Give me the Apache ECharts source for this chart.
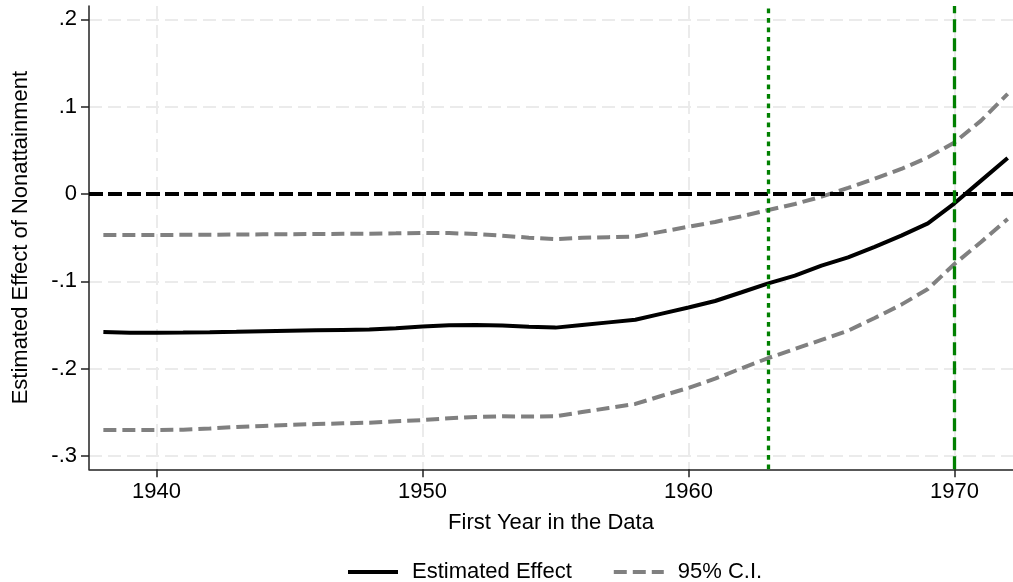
<!DOCTYPE html>
<html>
<head>
<meta charset="utf-8">
<script src="https://cdn.jsdelivr.net/npm/echarts@6/dist/echarts.min.js"></script>
<style>
  html, body { margin: 0; padding: 0; background: #fff; }
  #chart { width: 1013px; height: 582px; }
</style>
</head>
<body>
<div id="chart"></div>
<script>
// First year in the data (x) and the estimated effect with its 95% band
const years = [1938, 1939, 1940, 1941, 1942, 1943, 1944, 1945, 1946, 1947, 1948, 1949,
  1950, 1951, 1952, 1953, 1954, 1955, 1956, 1957, 1958, 1959, 1960, 1961, 1962, 1963,
  1964, 1965, 1966, 1967, 1968, 1969, 1970, 1971, 1972];

const estimate = [-0.1580, -0.1588, -0.1588, -0.1587, -0.1583, -0.1578, -0.1572, -0.1566,
  -0.1561, -0.1556, -0.1551, -0.1538, -0.1518, -0.1502, -0.1500, -0.1505, -0.1520, -0.1530,
  -0.1500, -0.1470, -0.1440, -0.1370, -0.1300, -0.1225, -0.1125, -0.1023, -0.0935, -0.0821,
  -0.0726, -0.0605, -0.0477, -0.0336, -0.0107, 0.0153, 0.0412];

const ciUpper = [-0.0469, -0.0470, -0.0469, -0.0468, -0.0466, -0.0464, -0.0462, -0.0460,
  -0.0458, -0.0456, -0.0454, -0.0451, -0.0446, -0.0448, -0.0458, -0.0478, -0.0500, -0.0517,
  -0.0502, -0.0494, -0.0487, -0.0431, -0.0375, -0.0320, -0.0255, -0.0183, -0.0115, -0.0031,
  0.0069, 0.0175, 0.0286, 0.0419, 0.0590, 0.0840, 0.1145];

const ciLower = [-0.2702, -0.2703, -0.2702, -0.2698, -0.2685, -0.2668, -0.2655, -0.2643,
  -0.2634, -0.2626, -0.2618, -0.2603, -0.2588, -0.2568, -0.2553, -0.2546, -0.2547, -0.2546,
  -0.2497, -0.2450, -0.2404, -0.2310, -0.2220, -0.2115, -0.1995, -0.1878, -0.1775, -0.1670,
  -0.1565, -0.1420, -0.1267, -0.1088, -0.0801, -0.0550, -0.0286];

// Tick positions and reference lines
const xTicks = [1940, 1950, 1960, 1970];
const yTicks = [-0.3, -0.2, -0.1, 0, 0.1, 0.2];
const refYearDotted = 1963;
const refYearDashed = 1970;

const pairs = (vals) => years.map((y, i) => [y, vals[i]]);
const fmtY = (v) => {
  const r = Math.round(v * 10);
  if (r === 0) return '0';
  return (r < 0 ? '-' : '') + '.' + Math.abs(r);
};

const FONT = '"Liberation Sans", Arial, Helvetica, sans-serif';
const AXIS_COLOR = '#222';
const GRID_LINE = { show: true, lineStyle: { color: '#ebebeb', width: 2, type: [13, 6] } };

const chart = echarts.init(document.getElementById('chart'), null, { renderer: 'canvas' });

chart.setOption({
  animation: false,
  backgroundColor: '#fff',
  textStyle: { fontFamily: FONT },
  grid: { left: 89, right: 0, top: 6, bottom: 112.7, containLabel: false, outerBoundsMode: 'none' },
  xAxis: {
    type: 'value',
    min: 1937.46,
    max: 1972.2,
    name: 'First Year in the Data',
    nameLocation: 'middle',
    nameGap: 43,
    nameTextStyle: { fontSize: 22, color: '#000', fontFamily: FONT },
    axisLine: { show: true, onZero: false, lineStyle: { color: AXIS_COLOR, width: 1.5 } },
    axisTick: { show: true, length: 8, customValues: xTicks, lineStyle: { color: AXIS_COLOR, width: 1.5 } },
    axisLabel: { show: true, customValues: xTicks, fontSize: 22, color: '#000', margin: 12, fontFamily: FONT,
      formatter: (v) => String(Math.round(v)) },
    splitLine: GRID_LINE
  },
  yAxis: {
    type: 'value',
    min: -0.3152,
    max: 0.2152,
    name: 'Estimated Effect of Nonattainment',
    nameLocation: 'middle',
    nameGap: 57,
    nameRotate: 90,
    nameTextStyle: { fontSize: 22, color: '#000', fontFamily: FONT },
    axisLine: { show: true, onZero: false, lineStyle: { color: AXIS_COLOR, width: 1.5 } },
    axisTick: { show: true, length: 8, customValues: yTicks, lineStyle: { color: AXIS_COLOR, width: 1.5 } },
    axisLabel: { show: true, customValues: yTicks, fontSize: 22, color: '#000', margin: 12, fontFamily: FONT,
      formatter: fmtY },
    splitLine: GRID_LINE
  },
  legend: {
    left: 346,
    top: 561,
    padding: 0,
    itemWidth: 50,
    itemHeight: 14,
    itemGap: 40,
    itemStyle: { opacity: 0 },
    lineStyle: { width: 4 },
    textStyle: { fontSize: 22, color: '#000', fontFamily: FONT, padding: [0, 0, 0, 9] },
    data: ['Estimated Effect', '95% C.I.']
  },
  series: [
    {
      name: '95% C.I.',
      type: 'line',
      data: pairs(ciUpper),
      symbol: 'none',
      lineStyle: { color: '#808080', width: 4, type: [13, 6] },
      itemStyle: { color: '#808080' },
      z: 3
    },
    {
      name: '95% C.I.',
      type: 'line',
      data: pairs(ciLower),
      symbol: 'none',
      lineStyle: { color: '#808080', width: 4, type: [13, 6] },
      itemStyle: { color: '#808080' },
      z: 3
    },
    {
      name: 'Estimated Effect',
      type: 'line',
      data: pairs(estimate),
      symbol: 'none',
      lineStyle: { color: '#000', width: 4, type: 'solid' },
      itemStyle: { color: '#000' },
      z: 4,
      markLine: {
        silent: true,
        symbol: ['none', 'none'],
        label: { show: false },
        emphasis: { disabled: true },
        data: [
          { yAxis: 0, lineStyle: { color: '#000', width: 4, type: [14, 5] } },
          { xAxis: refYearDotted, lineStyle: { color: '#008000', width: 3.3, type: [4.7, 4.8] } },
          { xAxis: refYearDashed, lineStyle: { color: '#008000', width: 3.3, type: [13, 6] } }
        ]
      }
    }
  ]
});
</script>
</body>
</html>
